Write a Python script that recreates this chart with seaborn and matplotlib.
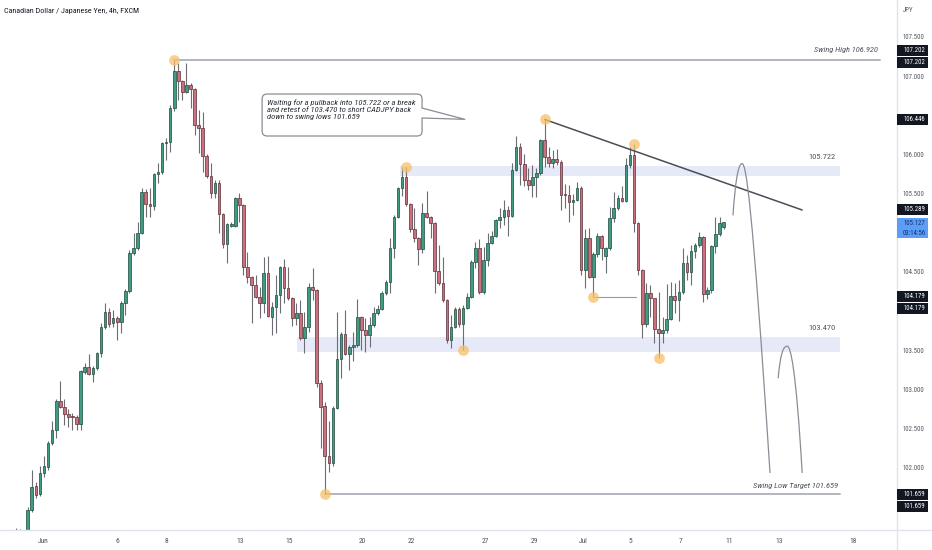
import numpy as np
import pandas as pd
import matplotlib
matplotlib.use("Agg")
import matplotlib.pyplot as plt
import matplotlib.transforms as mtransforms
from matplotlib import font_manager
from matplotlib.patches import FancyBboxPatch, Polygon, Rectangle, PathPatch
from matplotlib.path import Path
from matplotlib.lines import Line2D
import seaborn as sns

# CADJPY 4h candles (3 partly hidden bars first)
opens = [
    100.95, 101.00, 100.97,
    101.07, 101.46, 101.76, 101.66, 101.93, 102.01, 102.31, 102.48, 102.85, 102.77,
    102.68, 102.65, 102.65, 102.56, 103.22, 103.28, 103.19, 103.27, 103.46, 103.79,
    103.99, 103.84, 103.91, 103.86, 104.10, 104.25, 104.74, 104.80, 105.00, 105.52,
    105.37, 105.34, 105.75, 105.77, 106.14, 106.16, 106.59, 107.06, 106.94, 106.80,
    106.89, 106.83, 106.37, 106.34, 105.98, 105.72, 105.51, 105.63, 105.24, 104.85,
    105.09, 105.09, 105.44, 105.35, 104.56, 104.43, 104.33, 104.18, 104.10, 104.48,
    103.92, 104.05, 104.20, 104.56, 104.29, 104.16, 103.91, 103.97, 103.65, 103.79,
    104.31, 104.27, 103.08, 102.79, 102.15, 102.06, 102.76, 103.39, 103.71, 103.45,
    103.54, 103.56, 103.92, 103.76, 103.69, 103.82, 103.97, 104.02, 104.23, 104.37,
    104.80, 105.20, 105.57, 105.71, 105.37, 105.05, 104.93, 104.79, 105.25, 105.20,
    105.12, 104.51, 104.36, 104.14, 103.63, 103.79, 104.02, 103.83, 104.04, 104.18,
    104.62, 104.80, 104.24, 104.65, 104.87, 104.96, 105.16, 105.20, 105.29, 105.21,
    105.80, 106.09, 105.88, 105.67, 105.61, 105.71, 105.76, 106.18, 105.97, 105.89,
    105.94, 105.90, 105.49, 105.48, 105.39, 105.42, 105.57, 104.52, 104.93, 104.43,
    104.73, 104.96, 104.70, 104.80, 105.19, 105.31, 105.44, 105.40, 105.86, 105.99,
    105.12, 104.52, 103.83, 104.23, 104.16, 103.77, 103.72, 103.76, 103.90, 104.19,
    104.14, 104.24, 104.61, 104.50, 104.77, 104.84, 104.94, 104.22, 104.27, 104.83,
    104.98, 105.07,
]
highs = [
    101.23, 101.22, 101.10,
    101.50, 101.97, 101.81, 102.02, 102.15, 102.34, 102.59, 102.88, 103.10, 102.88,
    102.75, 102.70, 102.67, 103.25, 103.33, 103.45, 103.30, 103.48, 103.85, 104.10,
    104.04, 104.01, 103.93, 104.13, 104.28, 104.78, 105.00, 105.14, 105.57, 105.56,
    105.57, 105.76, 105.89, 106.16, 106.21, 106.63, 107.202, 107.17, 106.95, 107.17,
    106.91, 106.85, 106.57, 106.54, 106.01, 105.89, 105.67, 105.67, 105.25, 105.12,
    105.13, 105.45, 105.51, 105.37, 104.75, 104.44, 104.46, 104.31, 104.69, 104.70,
    104.11, 104.46, 104.57, 104.66, 104.56, 104.18, 104.10, 104.14, 103.99, 104.36,
    104.55, 104.28, 103.12, 102.84, 102.59, 102.78, 103.99, 103.73, 104.01, 103.56,
    103.73, 104.15, 103.93, 103.91, 103.92, 104.05, 104.07, 104.25, 104.39, 104.93,
    105.22, 105.58, 105.84, 105.84, 105.38, 105.31, 104.94, 105.38, 105.53, 105.21,
    105.13, 104.84, 104.69, 104.15, 103.95, 104.05, 104.05, 104.08, 104.23, 104.65,
    104.88, 104.92, 104.82, 104.99, 105.02, 105.17, 105.31, 105.42, 105.34, 105.89,
    106.23, 106.14, 106.00, 105.82, 105.86, 105.82, 106.20, 106.446, 106.09, 106.05,
    106.07, 105.93, 105.62, 105.61, 105.49, 105.65, 105.59, 105.05, 105.06, 104.75,
    105.00, 104.97, 104.82, 105.33, 105.52, 105.48, 105.60, 105.95, 106.09, 106.13,
    105.14, 104.54, 104.36, 104.33, 104.16, 104.24, 103.92, 104.34, 104.37, 104.36,
    104.39, 104.80, 104.71, 104.84, 104.87, 105.01, 104.96, 104.30, 104.84, 105.20,
    105.20, 105.14,
]
lows = [
    100.90, 100.92, 100.92,
    101.01, 101.43, 101.61, 101.64, 101.88, 101.97, 102.29, 102.38, 102.76, 102.54,
    102.52, 102.48, 102.48, 102.48, 103.20, 103.18, 103.09, 103.25, 103.41, 103.77,
    103.79, 103.79, 103.63, 103.72, 103.95, 104.23, 104.72, 104.78, 104.98, 105.20,
    105.20, 105.29, 105.63, 105.75, 105.93, 106.03, 106.55, 106.69, 106.69, 106.78,
    106.59, 106.25, 106.02, 105.77, 105.70, 105.44, 105.44, 104.99, 104.80, 104.61,
    105.07, 105.07, 105.14, 104.46, 104.36, 103.85, 104.16, 103.91, 103.97, 103.92,
    103.69, 103.72, 103.97, 104.10, 104.14, 103.81, 103.82, 103.63, 103.46, 103.73,
    104.14, 103.03, 102.25, 101.659, 101.94, 102.02, 102.75, 103.14, 103.44, 103.25,
    103.36, 103.54, 103.50, 103.47, 103.54, 103.80, 103.95, 104.01, 104.20, 104.23,
    104.68, 105.19, 105.47, 105.34, 105.01, 104.88, 104.59, 104.74, 105.19, 104.93,
    104.23, 104.33, 104.11, 103.59, 103.53, 103.78, 103.79, 103.50, 104.02, 104.16,
    104.55, 104.22, 104.22, 104.57, 104.85, 104.95, 105.06, 105.10, 104.96, 105.20,
    105.79, 105.61, 105.60, 105.54, 105.45, 105.45, 105.74, 105.84, 105.84, 105.82,
    105.86, 105.29, 105.31, 105.14, 105.22, 105.40, 104.46, 104.29, 104.42, 104.179,
    104.69, 104.65, 104.48, 104.78, 105.14, 105.29, 105.39, 105.39, 105.82, 105.01,
    104.46, 103.65, 103.79, 103.92, 103.59, 103.40, 103.59, 103.72, 103.89, 103.97,
    103.87, 104.22, 104.39, 104.33, 104.68, 104.82, 104.11, 104.15, 104.23, 104.74,
    104.96, 105.05,
]
closes = [
    101.00, 100.97, 101.07,
    101.46, 101.75, 101.65, 101.93, 102.02, 102.31, 102.48, 102.85, 102.77, 102.68,
    102.64, 102.64, 102.56, 103.23, 103.28, 103.19, 103.27, 103.46, 103.79, 103.99,
    103.83, 103.91, 103.86, 104.10, 104.25, 104.74, 104.80, 105.00, 105.52, 105.37,
    105.34, 105.75, 105.77, 106.14, 106.16, 106.59, 107.06, 106.94, 106.80, 106.89,
    106.83, 106.37, 106.34, 105.98, 105.72, 105.51, 105.63, 105.24, 104.85, 105.11,
    105.11, 105.44, 105.35, 104.56, 104.43, 104.33, 104.18, 104.10, 104.48, 103.93,
    104.05, 104.20, 104.56, 104.29, 104.16, 103.91, 103.97, 103.65, 103.79, 104.31,
    104.27, 103.08, 102.77, 102.15, 102.06, 102.76, 103.39, 103.71, 103.45, 103.54,
    103.56, 103.92, 103.76, 103.69, 103.82, 103.97, 104.02, 104.23, 104.37, 104.80,
    105.20, 105.57, 105.71, 105.37, 105.05, 104.93, 104.79, 105.25, 105.20, 105.12,
    104.51, 104.36, 104.14, 103.63, 103.79, 104.02, 103.83, 104.04, 104.18, 104.62,
    104.80, 104.24, 104.65, 104.87, 104.96, 105.16, 105.20, 105.29, 105.21, 105.80,
    106.09, 105.88, 105.67, 105.61, 105.71, 105.76, 106.18, 105.97, 105.89, 105.94,
    105.90, 105.48, 105.48, 105.39, 105.42, 105.57, 104.52, 104.93, 104.43, 104.73,
    104.96, 104.80, 104.80, 105.19, 105.31, 105.44, 105.40, 105.86, 105.99, 105.12,
    104.52, 103.83, 104.23, 104.16, 103.77, 103.72, 103.76, 103.90, 104.19, 104.14,
    104.24, 104.61, 104.50, 104.77, 104.84, 104.94, 104.22, 104.27, 104.83, 104.98,
    105.12, 105.13,
]

# time axis labels and the bar index where each one sits
date_labels = ["Jun", "6", "8", "13", "15", "20", "22", "27", "29", "Jul", "5", "7", "11", "13", "18"]
date_pos = [6.8, 25, 37.2, 55.2, 67.2, 85.1, 97.2, 115.4, 127.4, 139.4, 151.2, 163.3, 175.3, 187.6, 205.8]

# price scale labels that are not covered by the price tags
price_ticks = [102.0, 102.5, 103.0, 103.5, 104.5, 105.5, 106.0, 107.0, 107.5]

# drawings on the chart
swing_high = 107.202
swing_low = 101.659
upper_zone = (105.722, 105.85)
lower_zone = (103.470, 103.67)
trend_x = [130, 193.3]
trend_y = [106.446, 105.289]
support_level = 104.179
circle_bars = [39, 96, 76, 110, 130, 142, 152, 158]
circle_side = ["h", "h", "l", "l", "h", "l", "h", "l"]
tag_prices = [107.202, 107.202, 106.446, 105.289, 104.179, 104.179, 101.659, 101.659]
last_price = 105.127
countdown = "03:14:56"
note = ("Waiting for a pullback into 105.722 or a break\n"
        "and retest of 103.470 to short CADJPY back\n"
        "down to swing lows 101.659")

assert len(opens) == len(highs) == len(lows) == len(closes)

df = pd.DataFrame({"open": opens, "high": highs, "low": lows, "close": closes})
df["x"] = np.arange(len(df))
df["up"] = df["close"] >= df["open"]
df["bottom"] = df[["open", "close"]].min(axis=1)
df["height"] = (df["close"] - df["open"]).abs().clip(lower=0.012)

sns.set_theme(style="white")
avail = {f.name for f in font_manager.fontManager.ttflist}
FONT = "Roboto Condensed" if "Roboto Condensed" in avail else "DejaVu Sans"
plt.rcParams["font.family"] = [FONT, "DejaVu Sans"]
plt.rcParams["font.stretch"] = "condensed"

W, H = 932, 550
fig = plt.figure(figsize=(W / 100, H / 100), dpi=100)
fig.patch.set_facecolor("white")
ax = fig.add_axes([0, 20 / H, 897 / W, 530 / H])
ax.set_facecolor("white")
ax.set_xlim(-3.81, 216.6)
ax.set_ylim(101.202, 107.971)

GREEN, RED = "#3f9c82", "#cc707e"
WICK = "#6b6d72"
GREY_LINE = "#b2b5be"
TEXT = "#50535e"
AX_FS = 4.9

# zones
ax.fill_between([94.5, 202.6], upper_zone[0], upper_zone[1], color="#e6eaf8", lw=0, zorder=1)
ax.fill_between([69.2, 202.6], lower_zone[0], lower_zone[1], color="#e6eaf8", lw=0, zorder=1)

# candles
ax.vlines(df["x"], df["low"], df["high"], color=WICK, lw=0.8, zorder=2)
for up, col, ec in [(True, GREEN, "#1f4a3e"), (False, RED, "#5a2f36")]:
    d = df[df["up"] == up]
    ax.bar(d["x"], d["height"], bottom=d["bottom"], width=0.64, color=col,
           edgecolor=ec, linewidth=0.5, zorder=3)

# horizontal levels
ax.plot([39, 212.4], [swing_high, swing_high], color=GREY_LINE, lw=1.4, zorder=1.5)
ax.plot([76, 202.6], [swing_low, swing_low], color=GREY_LINE, lw=1.4, zorder=1.5)
ax.plot([142, 152.5], [support_level, support_level], color="#9598a1", lw=0.8, zorder=1.5)
sns.lineplot(x=trend_x, y=trend_y, ax=ax, color="#4a4d57", lw=1.1, zorder=4)

# projected path arcs
for verts in [
    [(176.3, 105.22), (176.8, 105.61), (177.5, 105.88), (178.5, 105.88),
     (179.5, 105.90), (181.0, 105.42), (185.4, 101.93)],
    [(187.4, 103.14), (187.9, 103.44), (188.6, 103.55), (189.6, 103.55),
     (190.5, 103.55), (191.8, 103.25), (193.3, 101.93)],
]:
    codes = [Path.MOVETO] + [Path.CURVE4] * 6
    ax.add_patch(PathPatch(Path(verts, codes), fill=False, edgecolor="#8a8d96", lw=0.9, zorder=4))

# circles on swing points
cx = [df["x"][b] for b in circle_bars]
cy = [df["high"][b] if s == "h" else df["low"][b] for b, s in zip(circle_bars, circle_side)]
ax.scatter(cx, cy, s=60, color="#f7c06a", alpha=0.75, lw=0, zorder=5)

# level texts
txt_kw = dict(fontsize=6.0, style="italic", color="#50535e", zorder=6)
ax.text(211.9, 107.33, "Swing High 106.920", ha="right", va="center", **txt_kw)
ax.text(202.1, 101.76, "Swing Low Target 101.659", ha="right", va="center", **txt_kw)
ax.text(201.6, 105.97, "105.722", ha="right", va="center", fontsize=6.0, color="#50535e")
ax.text(201.6, 103.78, "103.470", ha="right", va="center", fontsize=6.0, color="#50535e")

# callout box with pointer
ident = mtransforms.IdentityTransform()
(bx0, by0), (bx1, by1) = ax.transData.transform([(60.6, 106.234), (99.9, 106.77)])
box = FancyBboxPatch((bx0, by0), bx1 - bx0, by1 - by0,
                     boxstyle="round,pad=0,rounding_size=5",
                     facecolor="white", edgecolor="#8a8d96", lw=0.9,
                     transform=ident, zorder=6)
ax.add_patch(box)
tail = [(99.9, 106.591), (110.4, 106.447), (99.9, 106.464)]
ax.add_patch(Polygon([(99.5, 106.591), (110.4, 106.447), (99.5, 106.464)],
                     closed=True, facecolor="white", edgecolor="none", zorder=6.5))
ax.plot([tail[0][0], tail[1][0], tail[2][0]], [tail[0][1], tail[1][1], tail[2][1]],
        color="#8a8d96", lw=0.9, zorder=6.6)
ax.text(61.8, 106.70, note, ha="left", va="top", fontsize=6.1, style="italic",
        color="#2a2e39", linespacing=1.15, zorder=7)

# axes styling
for s in ax.spines.values():
    s.set_visible(False)
ax.grid(False)
ax.yaxis.tick_right()
ax.set_yticks(price_ticks, [f"{p:.3f}" for p in price_ticks])
ax.tick_params(axis="y", length=0, pad=4.3, labelsize=AX_FS, labelcolor=TEXT)
ax.set_xticks(date_pos, date_labels)
ax.tick_params(axis="x", length=0, pad=6, labelsize=5.4, labelcolor=TEXT)
ax.set_xlabel("")
ax.set_ylabel("")

fig.add_artist(Line2D([897 / W, 897 / W], [0, 1], color="#e0e3eb", lw=1))
fig.add_artist(Line2D([0, 1], [20 / H, 20 / H], color="#e0e3eb", lw=1))

fig.text(4 / W, 1 - 11 / H, "Canadian Dollar / Japanese Yen, 4h, FXCM",
         ha="left", va="center", fontsize=5.8, color="#131722")
fig.text(903 / W, 1 - 10 / H, "JPY", ha="left", va="center", fontsize=AX_FS, color=TEXT)

# price tags on the right scale
tag_shift = [-10, 2, 0, 0, 0, 12, 0, 12]
for p, sh in zip(tag_prices, tag_shift):
    yd = ax.transData.transform((0, p))[1] - sh
    fig.add_artist(Rectangle((897, yd - 5.5), 31, 11, facecolor="#131722",
                             edgecolor="none", transform=ident, zorder=5))
    fig.add_artist(plt.Text(903, yd, f"{p:.3f}", ha="left", va="center", fontsize=AX_FS,
                            color="white", transform=ident, zorder=6))
yd = ax.transData.transform((0, last_price))[1]
fig.add_artist(Rectangle((897, yd - 15.5), 31, 20, facecolor="#5b9df7",
                         edgecolor="none", transform=ident, zorder=5))
fig.add_artist(plt.Text(903, yd - 0.5, f"{last_price:.3f}", ha="left", va="center",
                        fontsize=AX_FS, color="#12306b", transform=ident, zorder=6))
fig.add_artist(plt.Text(903, yd - 10.5, countdown, ha="left", va="center",
                        fontsize=AX_FS, color="#12306b", transform=ident, zorder=6))

fig.savefig("out.png", dpi=100, facecolor="white")
